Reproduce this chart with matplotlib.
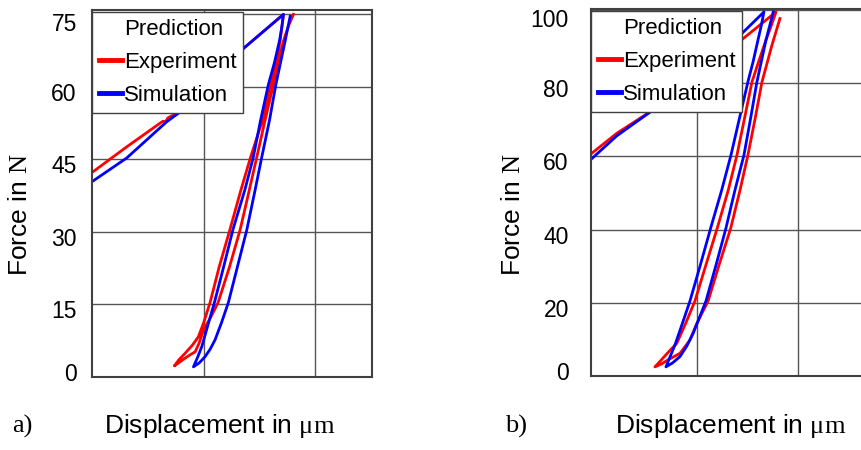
import matplotlib.pyplot as plt
from matplotlib.lines import Line2D
from matplotlib.transforms import ScaledTranslation

plt.rcParams['font.family'] = ['Liberation Sans', 'DejaVu Sans']
plt.rcParams['mathtext.fontset'] = 'custom'
plt.rcParams['mathtext.rm'] = 'Liberation Serif'
plt.rcParams['mathtext.it'] = 'Liberation Serif'

# a) loading -> unloading -> reloading, displacement in grid units
exp_a_x = [0.0, 0.311, 0.610, 0.637, 0.660, 0.680, 0.789, 1.238, 1.716,
           1.700, 1.686, 1.650, 1.603, 1.520, 1.419, 1.335, 1.235, 1.140,
           1.058, 1.000, 0.953, 0.900, 0.834, 0.780, 0.738,
           0.780, 0.834, 0.880, 0.924, 0.960, 0.998, 1.065, 1.130, 1.230,
           1.327, 1.410, 1.475, 1.550, 1.626, 1.680, 1.716, 1.761, 1.805]
exp_a_f = [42.3, 47.6, 52.5, 52.9, 52.8, 53.6, 54.9, 65.6, 75.0,
           72.0, 69.5, 65.0, 60.5, 52.5, 45.3, 38.7, 30.4, 22.8,
           15.4, 11.2, 8.3, 6.6, 4.9, 3.6, 2.3,
           3.0, 3.9, 4.6, 5.2, 7.0, 9.7, 12.4, 15.4, 22.6,
           30.4, 38.7, 45.3, 53.0, 60.5, 66.0, 69.5, 72.6, 75.0]
sim_a_x = [0.0, 0.311, 0.670, 0.789, 1.238, 1.716,
           1.700, 1.680, 1.635, 1.581, 1.510, 1.444, 1.370, 1.262, 1.180,
           1.097, 1.043, 0.984, 0.945, 0.909,
           0.960, 1.013, 1.060, 1.103, 1.160, 1.222, 1.300, 1.387, 1.462,
           1.520, 1.590, 1.648, 1.731, 1.776]
sim_a_f = [40.4, 45.3, 52.8, 54.8, 65.6, 75.0,
           72.2, 69.5, 65.0, 60.5, 53.0, 45.3, 38.7, 30.4, 22.8,
           15.4, 11.1, 6.3, 4.0, 2.1,
           2.9, 4.2, 5.8, 7.7, 11.2, 15.4, 22.5, 30.4, 38.7,
           45.3, 53.0, 60.5, 69.5, 74.6]

# b)
exp_b_x = [-0.046, 0.207, 0.536, 1.029, 1.358, 1.780,
           1.730, 1.681, 1.610, 1.543, 1.470, 1.395, 1.309, 1.200, 1.090,
           0.980, 0.890, 0.800, 0.740, 0.684, 0.635, 0.585,
           0.650, 0.714, 0.832, 0.930, 0.996, 1.110, 1.220, 1.333, 1.425,
           1.503, 1.575, 1.642, 1.740, 1.819]
exp_b_f = [60.7, 66.3, 72.2, 82.5, 90.0, 99.5,
           95.5, 91.8, 86.0, 80.4, 70.5, 60.4, 50.8, 40.4, 30.5,
           20.5, 14.5, 8.9, 7.2, 5.5, 4.0, 2.5,
           3.3, 4.4, 6.2, 9.8, 14.2, 20.5, 30.5, 40.4, 50.8,
           60.4, 70.5, 80.4, 90.4, 97.7]
sim_b_x = [-0.046, 0.207, 0.536, 1.029, 1.358, 1.661,
           1.635, 1.602, 1.555, 1.503, 1.420, 1.336, 1.244, 1.135, 1.035,
           0.931, 0.855, 0.783, 0.735, 0.694,
           0.760, 0.832, 0.900, 0.963, 1.089, 1.190, 1.286, 1.375, 1.464,
           1.530, 1.592, 1.681, 1.753]
sim_b_f = [59.2, 65.6, 72.1, 82.2, 91.3, 99.5,
           95.8, 91.8, 86.0, 80.4, 70.5, 60.4, 50.8, 40.4, 30.5,
           20.5, 14.3, 8.5, 5.3, 2.5,
           3.6, 5.3, 8.2, 11.7, 20.5, 30.5, 40.4, 50.8, 60.4,
           70.5, 80.4, 91.8, 99.5]

yticks_a = [0, 15, 30, 45, 60, 75]
yticks_b = [0, 20, 40, 60, 80, 100]
xgrid = [1, 2]

fig = plt.figure(figsize=(8.61, 4.5), dpi=100)
ax_a = fig.add_axes([0.1069, 0.1622, 0.3252, 0.8156])
ax_b = fig.add_axes([0.6864, 0.1644, 0.3357, 0.8156])


def style_panel(ax, yticks, ylim, xlim, pad):
    ax.set_xlim(*xlim)
    ax.set_ylim(*ylim)
    ax.set_xticks(xgrid)
    ax.set_yticks(yticks)
    ax.grid(True, color='#555555', linewidth=1.0)
    ax.set_axisbelow(True)
    ax.tick_params(axis='x', length=0, labelbottom=False)
    ax.tick_params(axis='y', length=0, labelsize=16.5, pad=pad)
    # labels sit a little below their grid lines, the bottom one above
    labels = ax.get_yticklabels()
    for i, lab in enumerate(labels):
        dy = -5 if i < len(labels) - 1 else -8
        if i == 0:
            dy = 5
        lab.set_transform(lab.get_transform() +
                          ScaledTranslation(0, dy / 100, fig.dpi_scale_trans))
    for sp in ax.spines.values():
        sp.set_color('#404040')
        sp.set_linewidth(1.5)
    handles = [Line2D([], [], color='none', label='Prediction'),
               Line2D([], [], color='red', lw=3.5, label='Experiment'),
               Line2D([], [], color='blue', lw=3.5, label='Simulation')]
    leg = ax.legend(handles=handles, loc='upper left',
                    bbox_to_anchor=(0, 1 - 2 / 367), borderaxespad=0,
                    fontsize=16, framealpha=1, fancybox=False,
                    edgecolor='#404040', handlelength=1.05,
                    handletextpad=0.08, labelspacing=0.55, borderpad=0.3)
    leg.get_frame().set_linewidth(1.0)
    leg.set_zorder(10)


ax_a.plot(exp_a_x, exp_a_f, color='red', lw=2.0)
ax_a.plot(sim_a_x, sim_a_f, color='blue', lw=2.0)
style_panel(ax_a, yticks_a, (0, 75.9), (0, 2.51), 11)

ax_b.plot(exp_b_x, exp_b_f, color='red', lw=2.0)
ax_b.plot(sim_b_x, sim_b_f, color='blue', lw=2.0)
style_panel(ax_b, yticks_b, (0, 100.3), (-0.046, 2.807), 16)

lab_kw = dict(fontsize=19)
fig.text(20 / 861, 1 - 214 / 450, r'Force in $\mathrm{N}$', rotation=90,
         ha='center', va='center', **lab_kw)
fig.text(513 / 861, 1 - 214 / 450, r'Force in $\mathrm{N}$', rotation=90,
         ha='center', va='center', **lab_kw)
fig.text(220 / 861, 1 - 433 / 450, r'Displacement in $\mathrm{\mu m}$',
         ha='center', va='baseline', **lab_kw)
fig.text(731 / 861, 1 - 433 / 450, r'Displacement in $\mathrm{\mu m}$',
         ha='center', va='baseline', **lab_kw)
fig.text(12 / 861, 1 - 433 / 450, 'a)', family='Liberation Serif',
         ha='left', va='baseline', **lab_kw)
fig.text(505 / 861, 1 - 433 / 450, 'b)', family='Liberation Serif',
         ha='left', va='baseline', **lab_kw)

fig.savefig('out.png', dpi=100)
